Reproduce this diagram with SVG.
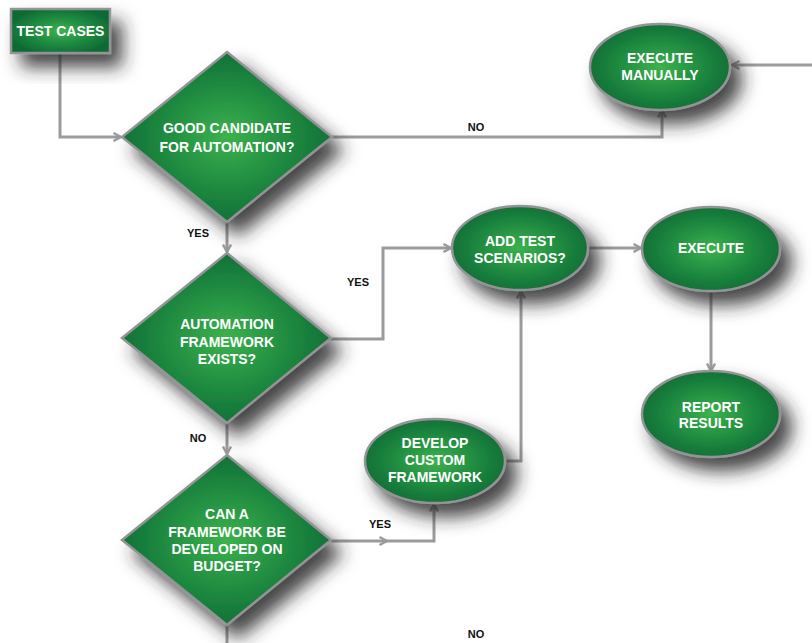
<svg xmlns="http://www.w3.org/2000/svg" width="812" height="643" viewBox="0 0 812 643">
  <defs>
    <radialGradient id="green" cx="0.5" cy="0.5" r="0.55">
      <stop offset="0" stop-color="#3cb24d"/>
      <stop offset="0.55" stop-color="#1f8a40"/>
      <stop offset="1" stop-color="#0d6a35"/>
    </radialGradient>
    <filter id="shadow" x="-50%" y="-50%" width="220%" height="220%">
      <feGaussianBlur in="SourceAlpha" stdDeviation="9"/>
      <feOffset dx="11" dy="13" result="blur"/>
      <feFlood flood-color="#262626" flood-opacity="0.85"/>
      <feComposite in2="blur" operator="in" result="shade"/>
      <feMerge>
        <feMergeNode in="shade"/>
        <feMergeNode in="SourceGraphic"/>
      </feMerge>
    </filter>
    <marker id="chev" viewBox="0 0 10 10" refX="9" refY="5" markerWidth="10" markerHeight="10" markerUnits="userSpaceOnUse" orient="auto">
      <path d="M1.5,1 L9,5 L1.5,9" fill="none" stroke="#9b9b9d" stroke-width="2.4" stroke-linejoin="miter"/>
    </marker>
  </defs>
  <style>
    .shape { fill: url(#green); stroke: #929496; stroke-width: 2.5; filter: url(#shadow); }
    .txt { font-family: "Liberation Sans", Arial, sans-serif; font-weight: bold; font-size: 14px; fill: #ffffff; text-anchor: middle; }
    .lbl { font-family: "Liberation Sans", Arial, sans-serif; font-weight: bold; font-size: 11px; fill: #111111; text-anchor: middle; }
    .wire { fill: none; stroke: #9b9b9d; stroke-width: 3; }
    .arrow { marker-end: url(#chev); }
  </style>

  <rect width="812" height="643" fill="#ffffff"/>

  <!-- connectors -->
  <g id="connectors">
    <path class="wire arrow" d="M60,54 V137 H121"/>
    <path class="wire arrow" d="M332,137 H662 V110"/>
    <path class="wire arrow" d="M812,65 H732"/>
    <path class="wire arrow" d="M227,222 V252"/>
    <path class="wire arrow" d="M330,339 H383 V248 H451"/>
    <path class="wire arrow" d="M588,248 H641"/>
    <path class="wire arrow" d="M711,291 V371"/>
    <path class="wire arrow" d="M227,423 V454"/>
    <path class="wire" d="M227,625 V643"/>
    <path class="wire arrow" d="M331,541 H387"/>
    <path class="wire arrow" d="M385,541 H434 V504"/>
    <path class="wire arrow" d="M505,461 H521 V291"/>
    <text class="lbl" x="476" y="131">NO</text>
    <text class="lbl" x="198" y="237">YES</text>
    <text class="lbl" x="358" y="286">YES</text>
    <text class="lbl" x="198" y="442">NO</text>
    <text class="lbl" x="380" y="528">YES</text>
    <text class="lbl" x="476" y="638">NO</text>
  </g>

  <g id="test-cases">
    <rect class="shape" x="11" y="9" width="99" height="44"/>
    <text class="txt" x="60.5" y="36">TEST CASES</text>
  </g>

  <g id="good-candidate">
    <polygon class="shape" points="227,52 332,137 227,222 122,137"/>
    <text class="txt" x="227" y="133">GOOD CANDIDATE</text>
    <text class="txt" x="227" y="152">FOR AUTOMATION?</text>
  </g>

  <g id="execute-manually">
    <ellipse class="shape" cx="660" cy="67" rx="70" ry="43"/>
    <text class="txt" x="660" y="63">EXECUTE</text>
    <text class="txt" x="660" y="80">MANUALLY</text>
  </g>

  <g id="framework-exists">
    <polygon class="shape" points="227,253 331,338 227,423 122,338"/>
    <text class="txt" x="227" y="329">AUTOMATION</text>
    <text class="txt" x="227" y="347">FRAMEWORK</text>
    <text class="txt" x="227" y="364">EXISTS?</text>
  </g>

  <g id="add-test-scenarios">
    <ellipse class="shape" cx="520" cy="248" rx="68" ry="42"/>
    <text class="txt" x="520" y="246">ADD TEST</text>
    <text class="txt" x="520" y="263">SCENARIOS?</text>
  </g>

  <g id="execute">
    <ellipse class="shape" cx="711" cy="249" rx="69" ry="42"/>
    <text class="txt" x="711" y="253">EXECUTE</text>
  </g>

  <g id="report-results">
    <ellipse class="shape" cx="711" cy="414" rx="69" ry="43"/>
    <text class="txt" x="711" y="412">REPORT</text>
    <text class="txt" x="711" y="428">RESULTS</text>
  </g>

  <g id="develop-on-budget">
    <polygon class="shape" points="227,455 331,540 227,625 122,540"/>
    <text class="txt" x="227" y="519">CAN A</text>
    <text class="txt" x="227" y="537">FRAMEWORK BE</text>
    <text class="txt" x="227" y="554">DEVELOPED ON</text>
    <text class="txt" x="227" y="571">BUDGET?</text>
  </g>

  <g id="develop-custom-framework">
    <ellipse class="shape" cx="435" cy="461" rx="70" ry="42"/>
    <text class="txt" x="435" y="448">DEVELOP</text>
    <text class="txt" x="435" y="465">CUSTOM</text>
    <text class="txt" x="435" y="482">FRAMEWORK</text>
  </g>
</svg>
